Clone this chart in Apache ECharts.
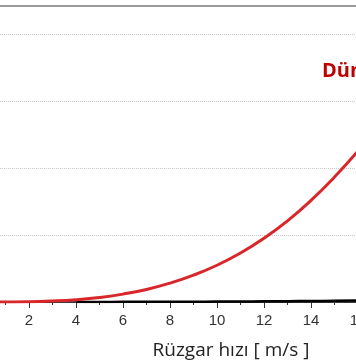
<!DOCTYPE html>
<html><head><meta charset="utf-8">
<script src="https://cdn.jsdelivr.net/npm/echarts@6/dist/echarts.min.js"></script>
<style>html,body{margin:0;padding:0;background:#fff}#c{width:356px;height:364px}</style>
</head><body><div id="c"></div>
<script>
var speeds = [0,1,2,3,4,5,6,7,8,9,10,11,12,13,14,15,16];
var redPower = [0,1,4,15,35,68,118,188,283,402,550,733,955,1215,1520,1870,2260];
var blackPower = [null,null,null,null,0,1,2,3,4,5,6,8,10,12,15,18,22];
var labelText = 'Dünya';
var axisTitle = 'Rüzgar hızı [ m/s ]';

var chart = echarts.init(document.getElementById('c'));
chart.setOption({
  animation:false,
  grid:{left:-18,right:-2,top:6,bottom:62,containLabel:false,outerBoundsMode:'none'},
  xAxis:[{
    type:'value',min:0,max:16,interval:2,
    axisLine:{show:true,lineStyle:{color:'#000',width:1.5}},
    axisTick:{show:true,length:6,lineStyle:{color:'#333',width:1}},
    minorTick:{show:true,splitNumber:2,length:3,lineStyle:{color:'#333',width:1}},
    splitLine:{show:false},
    axisLabel:{margin:11,fontSize:15,color:'#333',fontFamily:'Liberation Sans',showMaxLabel:true,showMinLabel:false,hideOverlap:false},
    name:axisTitle,nameLocation:'middle',nameGap:39,
    nameTextStyle:{fontSize:19,color:'#222',fontFamily:'Open Sans',padding:[0,0,0,122]}
  },{
    type:'value',min:0,max:16,position:'top',
    axisLine:{show:true,lineStyle:{color:'#9a9a9a',width:2}},
    axisTick:{show:false},axisLabel:{show:false},splitLine:{show:false}
  }],
  yAxis:{
    type:'value',min:0,max:4430,interval:1000,
    axisLine:{show:false},axisTick:{show:false},axisLabel:{show:false},
    splitLine:{show:true,lineStyle:{color:'#c8c8c8',type:'dotted',width:1}}
  },
  series:[{
    type:'line',data:speeds.map(function(v,i){return [v,blackPower[i]];}),
    smooth:true,symbol:'none',lineStyle:{color:'#000',width:2.5},z:2
  },{
    type:'line',data:speeds.map(function(v,i){return [v,redPower[i]];}),
    smooth:true,symbol:'none',lineStyle:{color:'#d9262a',width:3},z:3
  }],
  graphic:[{
    type:'text',left:322,top:61,
    style:{text:labelText,fill:'#c00000',font:'bold 20px "Open Sans"'}
  }]
});
</script></body></html>
